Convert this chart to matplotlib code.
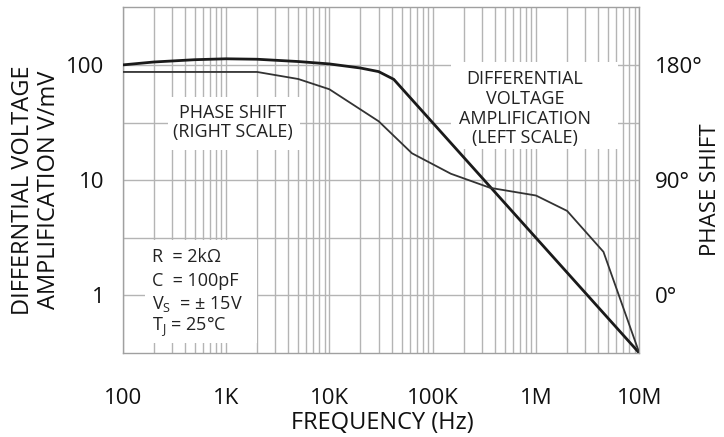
import matplotlib
matplotlib.use("Agg")
import matplotlib.pyplot as plt
from matplotlib.patches import Rectangle
from matplotlib.ticker import FixedLocator, NullFormatter

plt.rcParams['font.family'] = ['Open Sans', 'DejaVu Sans']

# ---- data ----
gain_freq = [100, 200, 500, 1e3, 2e3, 5e3, 1e4, 2e4, 3e4, 4.2e4, 1e7]
gain_vmv = [100, 106, 111, 113, 112, 107, 102, 94, 87.5, 75, 0.316]

phase_freq = [100, 2e3, 5e3, 1e4, 3e4, 6.3e4, 1.5e5, 3.6e5, 1e6, 2e6, 4.5e6, 1e7]
phase_deg = [174.5, 174.5, 169, 161, 136, 111, 95, 84, 78, 66, 34, -45]

freq_ticks = [1e2, 1e3, 1e4, 1e5, 1e6, 1e7]
freq_labels = ["100", "1K", "10K", "100K", "1M", "10M"]
gain_ticks = [1, 10, 100]
gain_labels = ["1", "10", "100"]
phase_ticks = [0, 90, 180]
phase_labels = ["0°", "90°", "180°"]

conditions = ["R  = 2kΩ", "C  = 100pF", r"V$_\mathregular{S}$  = ± 15V", r"T$_\mathregular{J}$ = 25°C"]
phase_note = ["PHASE SHIFT", "(RIGHT SCALE)"]
gain_note = ["DIFFERENTIAL", "VOLTAGE", "AMPLIFICATION", "(LEFT SCALE)"]

W, H = 724, 437
fig = plt.figure(figsize=(W / 100, H / 100), dpi=100)
L, R, T, B = 122.7, 639.3, 7.3, 353.0
ax = fig.add_axes([L / W, 1 - B / H, (R - L) / W, (B - T) / H])

ax.set_xscale("log")
ax.set_yscale("log")
ax.set_xlim(1e2, 1e7)
ax.set_ylim(10 ** -0.5, 10 ** 2.5)

grid_c = "#b4b4b4"
ax.set_xticks(freq_ticks)
ax.set_xticklabels(freq_labels)
ax.xaxis.set_minor_locator(FixedLocator([m * 10 ** e for e in range(2, 7) for m in range(2, 10)]))
ax.xaxis.set_minor_formatter(NullFormatter())
ax.set_yticks(gain_ticks)
ax.set_yticklabels(gain_labels)
ax.yaxis.set_minor_locator(FixedLocator([10 ** 0.5, 10 ** 1.5]))
ax.yaxis.set_minor_formatter(NullFormatter())
ax.grid(True, which="both", color=grid_c, lw=1.0, zorder=0)
ax.set_axisbelow(True)
ax.tick_params(which="both", length=0, labelsize=16, colors="#111111")
ax.tick_params(axis="x", pad=25)
ax.tick_params(axis="y", pad=13)
for s in ax.spines.values():
    s.set_color("#a0a0a0")
    s.set_linewidth(1.0)

# white patches behind the notes
def px_box(x0, y0, x1, y1):
    ax.add_patch(Rectangle(((x0 - L) / (R - L), (B - y1) / (B - T)),
                           (x1 - x0) / (R - L), (y1 - y0) / (B - T),
                           transform=ax.transAxes, facecolor="white",
                           edgecolor="none", zorder=2))

px_box(168, 97, 300, 150)
px_box(451, 62, 618, 149)
px_box(145, 240, 257, 343)

def px_text(x, y, s, size, ha="center"):
    ax.text((x - L) / (R - L), (B - y) / (B - T), s, transform=ax.transAxes,
            fontsize=size, ha=ha, va="center", color="#222222", zorder=3)

for i, s in enumerate(phase_note):
    px_text(233, 113 + i * 18.8, s, 13)
for i, s in enumerate(gain_note):
    px_text(525, 78.5 + i * 20, s, 13)
for i, s in enumerate(conditions):
    px_text(152, 257.5 + i * 23.2, s, 13, ha="left")

ax.plot(gain_freq, gain_vmv, color="#1a1a1a", lw=2.0, zorder=5)

ax2 = ax.twinx()
ax2.set_ylim(-45, 225)
ax2.set_yticks(phase_ticks)
ax2.set_yticklabels(phase_labels)
ax2.tick_params(length=0, labelsize=16, colors="#111111", pad=11)
for s in ax2.spines.values():
    s.set_visible(False)
ax2.plot(phase_freq, phase_deg, color="#333333", lw=1.3, zorder=5)

fig.text(382 / W, 1 - 423 / H, "FREQUENCY (Hz)", ha="center", va="center",
         fontsize=17, color="#111111")
fig.text(36 / W, 1 - 190 / H, "DIFFERNTIAL VOLTAGE\nAMPLIFICATION V/mV",
         rotation=90, ha="center", va="center", multialignment="center",
         fontsize=17, color="#111111", linespacing=1.1)
fig.text(711 / W, 1 - 190 / H, "PHASE SHIFT", rotation=90, ha="center",
         va="center", fontsize=16, color="#111111")

fig.savefig("out.png", dpi=100)
